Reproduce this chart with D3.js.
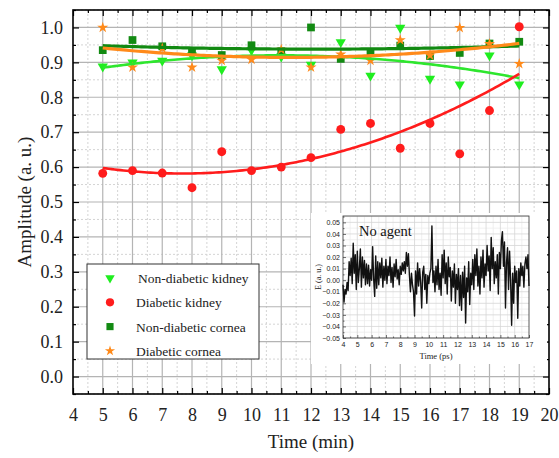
<!DOCTYPE html>
<html>
<head>
  <meta charset="utf-8">
  <title>Amplitude vs time</title>
  <script type="text/javascript" src="https://cdn.jsdelivr.net/npm/d3@7"></script>
  <style type="text/css">
    body { margin: 0; background: #fff; }
  </style>
</head>
<body>
  <div id="chart"></div>
  <script type="text/javascript">
    // Tid (min)
    const times = [5, 6, 7, 8, 9, 10, 11, 12, 13, 14, 15, 16, 17, 18, 19];

    // Amplituder
    const nonDiabeticKidney = [0.888, 0.900, 0.905, 0.920, 0.880, 0.935, 0.917, 0.893, 0.958, 0.862, 0.999, 0.853, 0.837, 0.920, 0.837];
    const diabeticKidney = [0.582, 0.590, 0.583, 0.541, 0.644, 0.590, 0.600, 0.627, 0.708, 0.725, 0.654, 0.725, 0.638, 0.762, 1.002];
    const nonDiabeticCornea = [0.935, 0.964, 0.946, 0.930, 0.921, 0.949, 0.932, 1.000, 0.910, 0.930, 0.948, 0.918, 0.927, 0.954, 0.959];
    const diabeticCornea = [1.000, 0.886, 0.940, 0.886, 0.905, 0.908, 0.937, 0.886, 0.923, 0.905, 0.964, 0.920, 0.999, 0.953, 0.896];

    const seriesNames = ["Non-diabetic kidney", "Diabetic kidney", "Non-diabetic cornea", "Diabetic cornea"];
    const xTicks = d3.range(4, 21, 1);
    const yTicks = d3.range(0, 1.01, 0.1);

    // Inset: E (a. u.) mod tid (ps), 14 punkter pr. ps fra 4 ps
    const insetStart = 4;
    const insetStep = 1 / 14;
    const insetSignal = [
      -0.004, -0.019, -0.008, -0.012, -0.002, -0.009, 0.016, 0.004, 0.019, -0.003, 0.032, 0.006, 0.022, -0.008,
      0.025, -0.002, 0.010, 0.027, -0.006, 0.020, 0.002, 0.017, -0.004, 0.014, -0.003, 0.013, -0.005, 0.009,
      0.000, 0.029, 0.001, -0.014, 0.021, -0.007, 0.016, -0.004, 0.015, 0.002, 0.019, -0.006, 0.012, 0.000,
      0.018, -0.003, 0.012, 0.004, 0.020, -0.002, 0.011, -0.006, 0.014, 0.003, 0.018, 0.001, 0.009, -0.004,
      0.012, 0.005, 0.015, 0.008, 0.016, 0.006, 0.024, 0.012, 0.023, 0.004, -0.010, 0.006, -0.004, -0.010,
      -0.031, 0.008, -0.012, 0.015, -0.005, 0.010, -0.002, -0.024, 0.007, 0.012, -0.008, 0.005, -0.020, 0.004,
      -0.003, 0.006, 0.010, 0.047, -0.002, 0.008, -0.010, 0.012, -0.004, 0.018, -0.008, 0.006, -0.013, 0.022,
      0.002, 0.026, -0.003, 0.015, -0.012, 0.020, 0.003, 0.011, -0.018, 0.008, -0.006, 0.014, -0.020, 0.005,
      -0.008, 0.010, -0.022, 0.004, -0.026, 0.007, -0.015, 0.012, -0.037, 0.002, -0.010, 0.016, -0.021, 0.006,
      -0.004, 0.018, -0.008, 0.022, 0.004, 0.027, -0.005, 0.012, -0.012, 0.020, 0.002, 0.026, -0.006, 0.014,
      0.004, 0.030, 0.008, 0.021, -0.009, 0.037, 0.010, 0.028, -0.003, 0.016, 0.002, 0.022, -0.012, 0.024,
      0.010, 0.034, 0.042, 0.012, 0.033, -0.024, 0.015, 0.028, -0.008, 0.025, 0.000, -0.039, 0.006, -0.020,
      0.012, -0.002, 0.008, -0.033, 0.010, -0.005, 0.015, 0.004, 0.012, -0.006, 0.014, 0.020, 0.010, 0.022,
      -0.005
    ];
    const insetXTicks = d3.range(4, 18, 1);
    const insetYTicks = d3.range(-0.05, 0.0501, 0.01);

    const w = 559;
    const h = 458;
    const pLeft = 73, pRight = 549, pTop = 10, pBottom = 394;
    const serif = "'Liberation Serif', 'Times New Roman', serif";
    const sans = "'Liberation Sans', Arial, sans-serif";

    const x = d3.scaleLinear().domain([4, 20]).range([pLeft, pRight]);
    const y = d3.scaleLinear().domain([-0.05, 1.05]).range([pBottom, pTop]);

    const svg = d3.select("#chart").append("svg")
      .attr("width", w)
      .attr("height", h)
      .style("font-family", serif);

    // Gitter: stiplede halve trin, faste hele trin
    const minorX = d3.range(4.5, 20, 1);
    const minorY = d3.range(-0.05, 1.06, 0.1);
    svg.append("g").selectAll("line").data(minorX).enter().append("line")
      .attr("x1", d => x(d)).attr("x2", d => x(d)).attr("y1", pTop).attr("y2", pBottom)
      .attr("stroke", "#d4d4d4").attr("stroke-dasharray", "2,2").attr("stroke-width", 1);
    svg.append("g").selectAll("line").data(minorY).enter().append("line")
      .attr("x1", pLeft).attr("x2", pRight).attr("y1", d => y(d)).attr("y2", d => y(d))
      .attr("stroke", "#d4d4d4").attr("stroke-dasharray", "2,2").attr("stroke-width", 1);
    svg.append("g").selectAll("line").data(xTicks.slice(1, -1)).enter().append("line")
      .attr("x1", d => x(d)).attr("x2", d => x(d)).attr("y1", pTop).attr("y2", pBottom)
      .attr("stroke", "#b4b4b4").attr("stroke-width", 1.2);
    svg.append("g").selectAll("line").data(yTicks).enter().append("line")
      .attr("x1", pLeft).attr("x2", pRight).attr("y1", d => y(d)).attr("y2", d => y(d))
      .attr("stroke", "#b4b4b4").attr("stroke-width", 1.2);

    // Akser med ticks indad på alle fire sider
    const fmt = d3.format(".1f");
    svg.append("g").attr("transform", `translate(0,${pBottom})`)
      .call(d3.axisBottom(x).tickValues(xTicks).tickSize(-6).tickPadding(14).tickFormat(d3.format("d")));
    svg.append("g").attr("transform", `translate(${pLeft},0)`)
      .call(d3.axisLeft(y).tickValues(yTicks).tickSize(-6).tickPadding(10).tickFormat(fmt));
    svg.append("g").attr("transform", `translate(0,${pTop})`)
      .call(d3.axisTop(x).tickValues(xTicks).tickSize(-6).tickFormat(""));
    svg.append("g").attr("transform", `translate(${pRight},0)`)
      .call(d3.axisRight(y).tickValues(yTicks).tickSize(-6).tickFormat(""));
    svg.append("g").attr("transform", `translate(0,${pBottom})`)
      .call(d3.axisBottom(x).tickValues(minorX).tickSize(-3).tickFormat(""));
    svg.append("g").attr("transform", `translate(0,${pTop})`)
      .call(d3.axisTop(x).tickValues(minorX).tickSize(-3).tickFormat(""));
    svg.append("g").attr("transform", `translate(${pLeft},0)`)
      .call(d3.axisLeft(y).tickValues(minorY).tickSize(-3).tickFormat(""));
    svg.append("g").attr("transform", `translate(${pRight},0)`)
      .call(d3.axisRight(y).tickValues(minorY).tickSize(-3).tickFormat(""));
    svg.selectAll(".domain").remove();
    svg.selectAll(".tick line").attr("stroke", "#000").attr("stroke-width", 1.2);
    svg.selectAll(".tick text").style("font-family", serif).attr("font-size", 18).attr("fill", "#222");

    svg.append("rect")
      .attr("x", pLeft).attr("y", pTop).attr("width", pRight - pLeft).attr("height", pBottom - pTop)
      .attr("fill", "none").attr("stroke", "#000").attr("stroke-width", 1.6);

    svg.append("text")
      .attr("x", (pLeft + pRight) / 2).attr("y", 448)
      .attr("text-anchor", "middle").attr("font-size", 19).attr("fill", "#222")
      .text("Time (min)");
    svg.append("text")
      .attr("transform", `translate(31,${(pTop + pBottom) / 2}) rotate(-90)`)
      .attr("text-anchor", "middle").attr("font-size", 19).attr("fill", "#222")
      .text("Amplitude (a. u.)");

    // Andengradsfit (mindste kvadraters metode)
    function polyfit2(xs, ys) {
      let s = [0, 0, 0, 0, 0], t = [0, 0, 0];
      xs.forEach((xi, i) => {
        for (let k = 0; k < 5; k++) s[k] += Math.pow(xi, k);
        for (let k = 0; k < 3; k++) t[k] += ys[i] * Math.pow(xi, k);
      });
      const A = [[s[0], s[1], s[2]], [s[1], s[2], s[3]], [s[2], s[3], s[4]]];
      const b = t.slice();
      for (let i = 0; i < 3; i++) {
        for (let j = i + 1; j < 3; j++) {
          const f = A[j][i] / A[i][i];
          for (let k = i; k < 3; k++) A[j][k] -= f * A[i][k];
          b[j] -= f * b[i];
        }
      }
      const c = [0, 0, 0];
      for (let i = 2; i >= 0; i--) {
        let sum = b[i];
        for (let k = i + 1; k < 3; k++) sum -= A[i][k] * c[k];
        c[i] = sum / A[i][i];
      }
      return v => c[0] + c[1] * v + c[2] * v * v;
    }

    const series = [
      { name: seriesNames[0], values: nonDiabeticKidney, color: "#1fee1f", line: "#2ee62e", sym: d3.symbolTriangle, size: 46, rot: 180, lw: 2.6 },
      { name: seriesNames[1], values: diabeticKidney, color: "#ff1c1c", line: "#ff1c1c", sym: d3.symbolCircle, size: 62, rot: 0, lw: 2.6 },
      { name: seriesNames[2], values: nonDiabeticCornea, color: "#128a12", line: "#128a12", sym: d3.symbolSquare, size: 60, rot: 0, lw: 3.2 },
      { name: seriesNames[3], values: diabeticCornea, color: "#ff8a1a", line: "#ff8a1a", sym: d3.symbolStar, size: 38, rot: 0, lw: 3.2 }
    ];

    const plot = svg.append("g");
    series.forEach(s => {
      plot.append("g").selectAll("path").data(s.values).enter().append("path")
        .attr("d", d3.symbol().type(s.sym).size(s.size))
        .attr("transform", (d, i) => `translate(${x(times[i])},${y(d)}) rotate(${s.rot})`)
        .attr("fill", s.color);
    });
    const fitX = d3.range(5, 19.001, 0.1);
    series.forEach(s => {
      const f = polyfit2(times, s.values);
      plot.append("path")
        .datum(fitX)
        .attr("d", d3.line().x(d => x(d)).y(d => y(f(d))))
        .attr("fill", "none").attr("stroke", s.line).attr("stroke-width", s.lw);
    });

    // Legende
    const lg = svg.append("g");
    lg.append("rect").attr("x", 87).attr("y", 264).attr("width", 172).attr("height", 95)
      .attr("fill", "#fff").attr("stroke", "#333").attr("stroke-width", 1);
    series.forEach((s, i) => {
      const ly = 278 + i * 24.3;
      lg.append("path")
        .attr("d", d3.symbol().type(s.sym).size(s.size * 0.85))
        .attr("transform", `translate(110,${ly}) rotate(${s.rot})`)
        .attr("fill", s.color);
      lg.append("text").attr("x", i === 0 ? 138 : 136).attr("y", ly + 5)
        .attr("font-size", 13.5).attr("fill", "#222").text(s.name);
    });

    // Inset
    svg.append("rect").attr("x", 311).attr("y", 213).attr("width", 236).attr("height", 151)
      .attr("fill", "#fff");
    const il = 343, ir = 529, it = 216, ib = 338;
    const ix = d3.scaleLinear().domain([4, 17]).range([il, ir]);
    const iy = d3.scaleLinear().domain([-0.05, 0.0555]).range([ib, it]);
    const ins = svg.append("g");
    const iMinorX = d3.range(4.5, 17, 1);
    const iMinorY = d3.range(-0.045, 0.0555, 0.01);
    ins.selectAll(".gmx").data(iMinorX).enter().append("line")
      .attr("x1", d => ix(d)).attr("x2", d => ix(d)).attr("y1", it).attr("y2", ib)
      .attr("stroke", "#ececec").attr("stroke-width", 0.8);
    ins.selectAll(".gmy").data(iMinorY).enter().append("line")
      .attr("x1", il).attr("x2", ir).attr("y1", d => iy(d)).attr("y2", d => iy(d))
      .attr("stroke", "#ececec").attr("stroke-width", 0.8);
    ins.selectAll(".gx").data(insetXTicks.slice(1, -1)).enter().append("line")
      .attr("x1", d => ix(d)).attr("x2", d => ix(d)).attr("y1", it).attr("y2", ib)
      .attr("stroke", "#d6d6d6").attr("stroke-width", 0.8);
    ins.selectAll(".gy").data(insetYTicks).enter().append("line")
      .attr("x1", il).attr("x2", ir).attr("y1", d => iy(d)).attr("y2", d => iy(d))
      .attr("stroke", "#d6d6d6").attr("stroke-width", 0.8);

    ins.append("g").attr("transform", `translate(0,${ib})`)
      .call(d3.axisBottom(ix).tickValues(insetXTicks).tickSize(-3).tickPadding(4).tickFormat(d3.format("d")));
    ins.append("g").attr("transform", `translate(${il},0)`)
      .call(d3.axisLeft(iy).tickValues(insetYTicks).tickSize(-3).tickPadding(3).tickFormat(d3.format(".2f")));
    ins.append("g").attr("transform", `translate(0,${ib})`)
      .call(d3.axisBottom(ix).tickValues(iMinorX).tickSize(-1.5).tickFormat(""));
    ins.append("g").attr("transform", `translate(${il},0)`)
      .call(d3.axisLeft(iy).tickValues(iMinorY).tickSize(-1.5).tickFormat(""));
    ins.selectAll(".domain").remove();
    ins.selectAll(".tick line").attr("stroke", "#333").attr("stroke-width", 0.7);
    ins.selectAll(".tick text").style("font-family", sans).attr("font-size", 7).attr("fill", "#222");
    ins.append("rect").attr("x", il).attr("y", it).attr("width", ir - il).attr("height", ib - it)
      .attr("fill", "none").attr("stroke", "#333").attr("stroke-width", 0.8);

    ins.append("path")
      .datum(insetSignal)
      .attr("d", d3.line().x((d, i) => ix(insetStart + i * insetStep)).y(d => iy(d)))
      .attr("fill", "none").attr("stroke", "#111").attr("stroke-width", 1.4)
      .attr("stroke-linejoin", "round");

    ins.append("text").attr("x", 359).attr("y", 236).attr("font-size", 14.5).attr("fill", "#111").text("No agent");
    ins.append("text").attr("x", (il + ir) / 2).attr("y", 359).attr("text-anchor", "middle")
      .attr("font-size", 8.5).attr("fill", "#222").text("Time (ps)");
    ins.append("text").attr("transform", `translate(321,${(it + ib) / 2}) rotate(-90)`)
      .attr("text-anchor", "middle").attr("font-size", 8).attr("fill", "#222").text("E (a. u.)");
  </script>
</body>
</html>
